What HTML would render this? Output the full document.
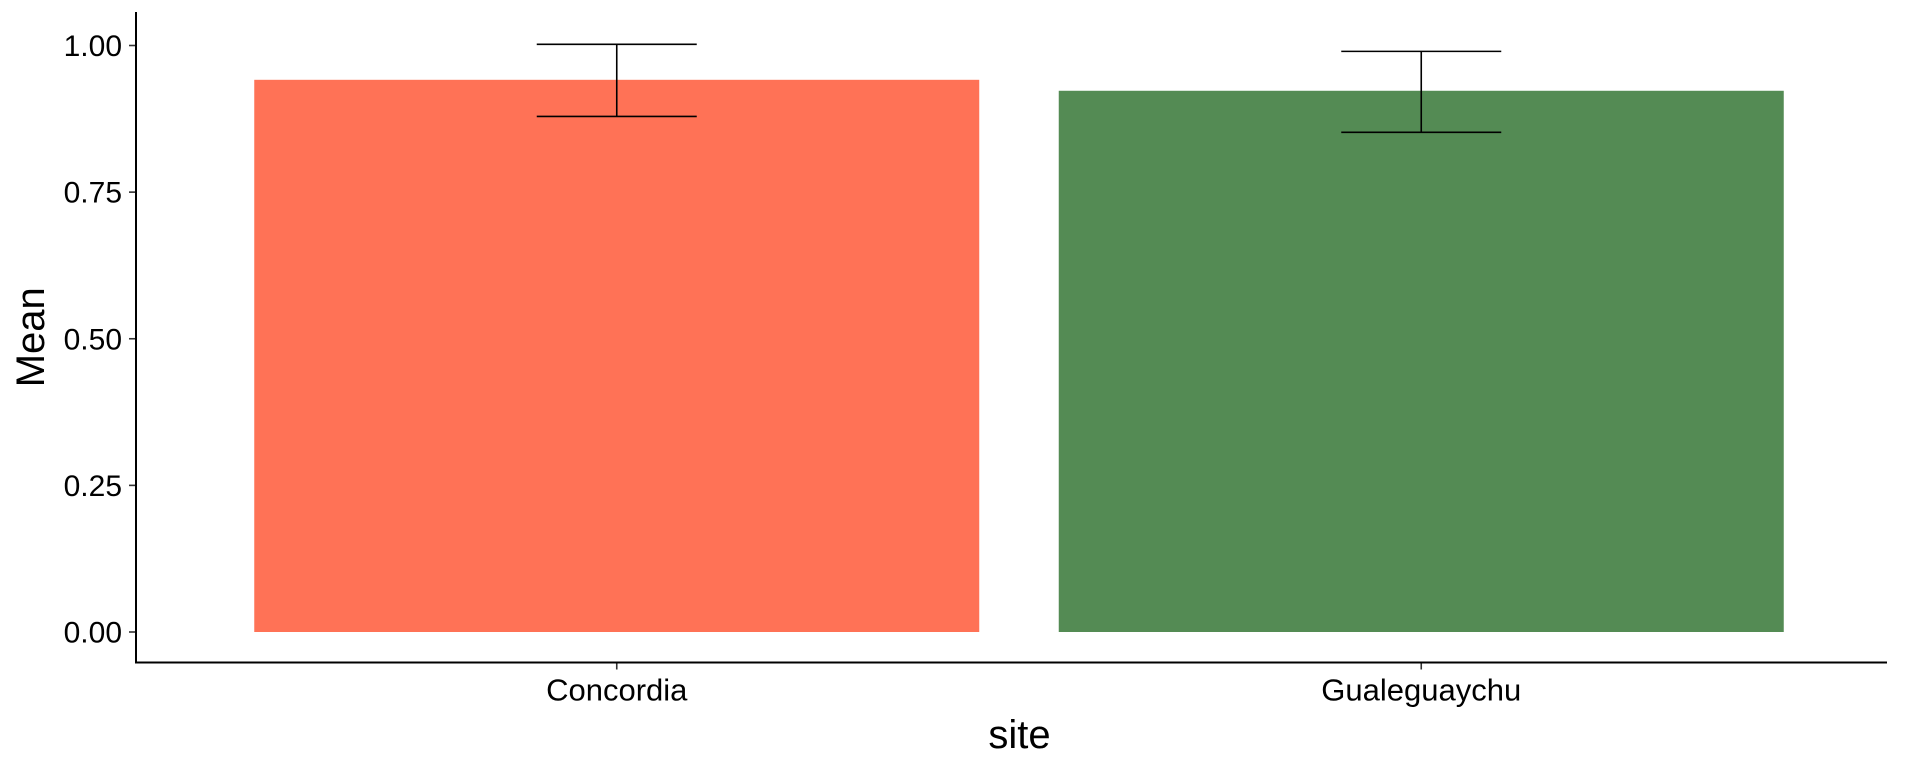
<!DOCTYPE html>
<html><head><meta charset="utf-8"><style>
html,body{margin:0;padding:0;background:#fff;}
svg{display:block;font-family:"Liberation Sans",Arial,sans-serif;}
</style></head><body>
<svg id="chart" width="1920" height="768"></svg>
<script>
const categories = ["Concordia", "Gualeguaychu"];
const means = [0.9415, 0.9228];
const lower = [0.879, 0.852];
const upper = [1.002, 0.990];
const colors = ["#FF7256", "#548B54"];
const yTicks = [0, 0.25, 0.5, 0.75, 1.0];
const yTickLabels = ["0.00", "0.25", "0.50", "0.75", "1.00"];

const NS = "http://www.w3.org/2000/svg";
const svg = document.getElementById("chart");
const axLeft = 136, axBottom = 662.5, axRight = 1887, axTop = 12;
const y0 = 632, y1 = 45.5;
function yScale(v){ return y0 + (y1 - y0) * v; }
const bandStart = 214.5, bandStep = 804.5, barW = 725;
function xCenter(i){ return bandStart + bandStep * (i + 0.5); }
function mk(tag, attrs, parent){ const e = document.createElementNS(NS, tag); for (const k in attrs) e.setAttribute(k, attrs[k]); (parent||svg).appendChild(e); return e; }

categories.forEach((c, i) => {
  const cx = xCenter(i);
  const bar = mk("rect", {x: cx - barW/2, y: yScale(means[i]), width: barW, height: yScale(0) - yScale(means[i]), fill: colors[i]});
  
  
  const g = mk("g", {stroke: "#000", "stroke-width": 1.6});
  
  
  mk("line", {x1: cx, x2: cx, y1: yScale(lower[i]), y2: yScale(upper[i])}, g);
  mk("line", {x1: cx - 80, x2: cx + 80, y1: yScale(lower[i]), y2: yScale(lower[i])}, g);
  mk("line", {x1: cx - 80, x2: cx + 80, y1: yScale(upper[i]), y2: yScale(upper[i])}, g);
  const tk = mk("line", {x1: cx, x2: cx, y1: axBottom, y2: axBottom + 7, stroke: "#333", "stroke-width": 1.6});
  
  
  const t = mk("text", {x: cx, y: axBottom + 38, "text-anchor": "middle", "font-size": 31, fill: "#000"});
  t.textContent = c;
  
  
});

yTicks.forEach((v, i) => {
  const yy = yScale(v);
  const tk = mk("line", {x1: axLeft - 7, x2: axLeft, y1: yy, y2: yy, stroke: "#333", "stroke-width": 1.6});
  
  
  const t = mk("text", {x: axLeft - 14, y: yy + 10.5, "text-anchor": "end", "font-size": 30, fill: "#000"});
  t.textContent = yTickLabels[i];
  
  
});

const ya = mk("line", {x1: axLeft, x2: axLeft, y1: axTop, y2: axBottom, stroke: "#000", "stroke-width": 2});


const xa = mk("line", {x1: axLeft - 1, x2: axRight, y1: axBottom, y2: axBottom, stroke: "#000", "stroke-width": 2});



const xt = mk("text", {x: (axLeft + axRight)/2 + 8, y: 748, "text-anchor": "middle", "font-size": 40, fill: "#000"});
xt.textContent = "site";


const yt = mk("text", {x: 0, y: 0, "text-anchor": "middle", "font-size": 40, fill: "#000", transform: "translate(44," + ((axTop + axBottom)/2) + ") rotate(-90)"});
yt.textContent = "Mean";


</script>
</body></html>
